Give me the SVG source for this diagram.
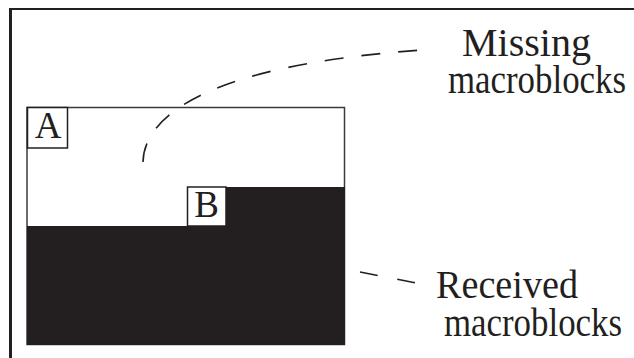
<svg xmlns="http://www.w3.org/2000/svg" width="634" height="358" viewBox="0 0 634 358">
<style>
.lbl{font-family:"Liberation Serif","Times New Roman",serif;fill:#231f20}
.big{font-size:40px}
.box{font-size:37px}
.dash{fill:none;stroke:#231f20;stroke-width:1.6}
</style>
<rect width="634" height="358" fill="#fff"/>
<g id="frame" fill="none" stroke="#231f20">
<line x1="10.5" y1="8" x2="10.5" y2="358" stroke-width="3"/>
<line x1="9" y1="9" x2="634" y2="9" stroke-width="2"/>
</g>
<g id="picture">
<rect x="27" y="107.5" width="317.5" height="237" fill="#fff" stroke="#3a3a3a" stroke-width="1.5"/>
<rect x="27" y="226" width="318" height="119" fill="#231f20"/>
<rect x="226" y="187" width="119" height="40" fill="#231f20"/>
</g>
<g id="blockA">
<rect x="27.5" y="107.5" width="40" height="40.5" fill="#fff" stroke="#231f20" stroke-width="1.5"/>
<text class="lbl box" x="48" y="138" text-anchor="middle">A</text>
</g>
<g id="blockB">
<rect x="187.5" y="187" width="38.5" height="39" fill="#fff" stroke="#231f20" stroke-width="1.5"/>
<text class="lbl box" x="206.5" y="216.5" text-anchor="middle">B</text>
</g>
<g id="missing">
<text class="lbl big" x="462" y="56" textLength="129" lengthAdjust="spacingAndGlyphs">Missing</text>
<text class="lbl big" x="448" y="93" textLength="178" lengthAdjust="spacingAndGlyphs">macroblocks</text>
</g>
<g id="received">
<text class="lbl big" x="436" y="298" textLength="142" lengthAdjust="spacingAndGlyphs">Received</text>
<text class="lbl big" x="444" y="336" textLength="178" lengthAdjust="spacingAndGlyphs">macroblocks</text>
</g>
<g id="connectors">
<path class="dash" d="M143,162 C144,115 210,65 422,50" stroke-dasharray="19 18"/>
<path class="dash" d="M360,272 L416,283" stroke-dasharray="18 20"/>
</g>
</svg>
